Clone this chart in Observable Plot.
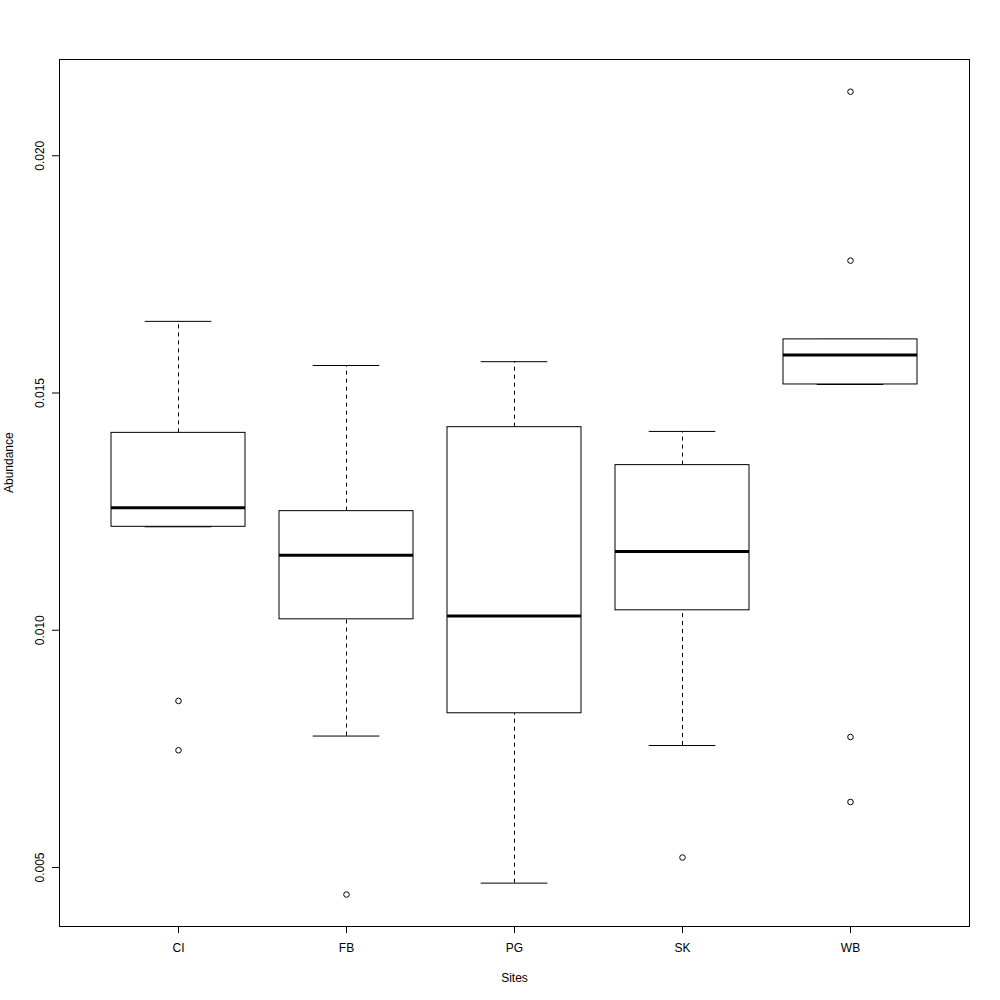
<!DOCTYPE html>
<html>
<head>
<meta charset="utf-8">
<script src="https://cdn.jsdelivr.net/npm/d3@7"></script>
<script src="https://cdn.jsdelivr.net/npm/@observablehq/plot@0.6"></script>
<style>
  html, body { margin: 0; padding: 0; background: #fff; }
  svg { display: block; }
</style>
</head>
<body>
<div id="chart"></div>
<script>
// Data
const sites = ["CI", "FB", "PG", "SK", "WB"];
const whiskerLow  = [0.01218, 0.00777, 0.00467, 0.00757, 0.01518];
const q1          = [0.01218, 0.01023, 0.00825, 0.01042, 0.01518];
const median      = [0.01258, 0.01158, 0.01030, 0.01166, 0.01580];
const q3          = [0.01416, 0.01251, 0.01428, 0.01348, 0.01613];
const whiskerHigh = [0.01651, 0.01558, 0.01566, 0.01419, 0.01613];
const outlierSite  = ["CI", "CI", "FB", "SK", "WB", "WB", "WB", "WB"];
const outlierValue = [0.00851, 0.00747, 0.00443, 0.00521, 0.02135, 0.01779, 0.00775, 0.00638];
const yTicks = [0.005, 0.010, 0.015, 0.020];

const stats = sites.map((s, i) => ({
  site: s, lo: whiskerLow[i], q1: q1[i], med: median[i], q3: q3[i], hi: whiskerHigh[i]
}));
const outliers = outlierSite.map((s, i) => ({site: s, value: outlierValue[i]}));

const font = "'Liberation Sans', Arial, Helvetica, sans-serif";

const chart = Plot.plot({
  width: 1000,
  height: 1000,
  marginTop: 59,
  marginBottom: 74,
  marginLeft: 59,
  marginRight: 31,
  style: {fontFamily: font, fontSize: "12px", color: "black", background: "white"},
  x: {type: "band", domain: sites, paddingInner: 0.2, paddingOuter: 0.3, axis: null},
  y: {domain: [0.003756, 0.022029], axis: null},
  marks: [
    // whiskers (dashed)
    Plot.ruleX(stats, {x: "site", y1: "q3", y2: "hi", stroke: "black", strokeDasharray: "4,4"}),
    Plot.ruleX(stats, {x: "site", y1: "lo", y2: "q1", stroke: "black", strokeDasharray: "4,4"}),
    // staples
    Plot.tickY(stats, {x: "site", y: "hi", stroke: "black", insetLeft: 33.7, insetRight: 33.7}),
    Plot.tickY(stats, {x: "site", y: "lo", stroke: "black", insetLeft: 33.7, insetRight: 33.7}),
    // boxes
    Plot.barY(stats, {x: "site", y1: "q1", y2: "q3", fill: "white", stroke: "black", strokeWidth: 1}),
    // medians
    Plot.tickY(stats, {x: "site", y: "med", stroke: "black", strokeWidth: 3}),
    // outliers
    Plot.dot(outliers, {x: "site", y: "value", r: 2.8, stroke: "black", fill: "none", strokeWidth: 1}),
    // frame
    Plot.frame({stroke: "black"}),
    // axes
    Plot.axisY(yTicks, {
      anchor: "left", tickSize: 7, tickPadding: 9, tickRotate: -90,
      tickFormat: d3.format(".3f"), textAnchor: "middle", lineAnchor: "bottom",
      label: null, fontSize: 12
    }),
    Plot.axisX(sites, {
      anchor: "bottom", tickSize: 7, tickPadding: 10, label: null, fontSize: 12
    }),
    Plot.text(["Abundance"], {frameAnchor: "left", dx: -50, rotate: -90, fontSize: 12, fill: "black"}),
    Plot.text(["Sites"], {frameAnchor: "bottom", dy: 55, fontSize: 12, fill: "black"})
  ]
});

document.getElementById("chart").appendChild(chart);
</script>
</body>
</html>
